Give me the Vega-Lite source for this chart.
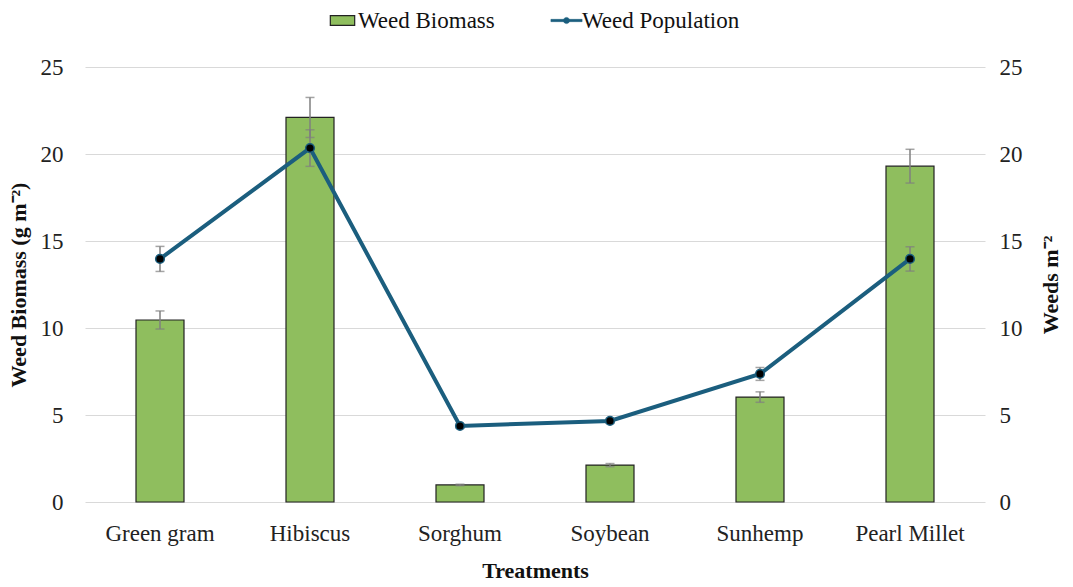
{
  "$schema": "https://vega.github.io/schema/vega-lite/v6.json",
  "width": 900,
  "height": 435,
  "autosize": "none",
  "padding": {"left": 85, "top": 67, "right": 88, "bottom": 85},
  "background": "white",
  "config": {
    "font": "Liberation Serif",
    "view": {"stroke": null},
    "axis": {
      "labelFont": "Liberation Serif",
      "titleFont": "Liberation Serif",
      "labelFontSize": 23,
      "titleFontSize": 22,
      "labelColor": "#222",
      "titleColor": "#111",
      "domain": false,
      "ticks": false,
      "gridColor": "#d9d9d9",
      "labelPadding": 12
    },
    "legend": {
      "labelFont": "Liberation Serif",
      "labelFontSize": 23,
      "labelColor": "#111",
      "layout": {"top": {"anchor": "middle", "direction": "horizontal", "margin": 60}}
    }
  },
  "data": {
    "values": [
      {"treatment": "Green gram", "biomass": 10.46, "bm_err": 0.52, "pop": 13.97, "pop_err": 0.72},
      {"treatment": "Hibiscus", "biomass": 22.1, "bm_err": 1.15, "pop": 20.34, "pop_err": 1.05},
      {"treatment": "Sorghum", "biomass": 0.98, "bm_err": 0.04, "pop": 4.37, "pop_err": 0.12},
      {"treatment": "Soybean", "biomass": 2.12, "bm_err": 0.09, "pop": 4.66, "pop_err": 0.14},
      {"treatment": "Sunhemp", "biomass": 6.03, "bm_err": 0.3, "pop": 7.36, "pop_err": 0.37},
      {"treatment": "Pearl Millet", "biomass": 19.3, "bm_err": 0.97, "pop": 13.97, "pop_err": 0.7}
    ]
  },
  "encoding": {
    "x": {
      "field": "treatment",
      "type": "nominal",
      "sort": null,
      "scale": {"paddingInner": 0.68, "paddingOuter": 0.34},
      "axis": {"labelAngle": 0, "labelFont": "Liberation Serif", "labelPadding": 20, "title": "Treatments", "titleFontWeight": "bold", "grid": false, "titlePadding": 15}
    }
  },
  "layer": [
    {
      "encoding": {
        "y": {
          "field": "biomass",
          "type": "quantitative",
          "scale": {"domain": [0, 25]},
          "axis": {"title": "Weed Biomass (g m⁻²)", "labelFont": "Liberation Serif", "titleFontWeight": "bold", "values": [0, 5, 10, 15, 20, 25], "labelPadding": 22, "titlePadding": 10}
        }
      },
      "layer": [
        {
          "mark": {"type": "bar", "stroke": "#222", "strokeWidth": 1.2},
          "encoding": {
            "fill": {
              "datum": "Weed Biomass",
              "type": "nominal",
              "scale": {"range": ["#8fbe5e"]},
              "legend": {"title": null, "orient": "top", "labelFont": "Liberation Serif", "labelFontSize": 23, "symbolType": "M-1.25,-0.5L1.25,-0.5L1.25,0.5L-1.25,0.5Z", "symbolSize": 380, "symbolStrokeColor": "#222", "symbolStrokeWidth": 1.2, "offset": 34}
            }
          }
        },
        {
          "mark": {"type": "errorbar", "ticks": {"size": 9, "color": "#7f7f7f"}, "color": "#7f7f7f", "thickness": 1.5},
          "encoding": {
            "yError": {"field": "bm_err"}
          }
        }
      ]
    },
    {
      "encoding": {
        "y": {
          "field": "pop",
          "type": "quantitative",
          "scale": {"domain": [0, 25]},
          "axis": {"orient": "right", "title": "Weeds m⁻²", "labelFont": "Liberation Serif", "titleAngle": 270, "titleFontWeight": "bold", "values": [0, 5, 10, 15, 20, 25], "grid": false, "labelPadding": 14, "titlePadding": 40}
        }
      },
      "layer": [
        {
          "mark": {"type": "line", "strokeWidth": 4},
          "encoding": {
            "stroke": {
              "datum": "Weed Population",
              "type": "nominal",
              "scale": {"range": ["#1b5e7e"]},
              "legend": {"title": null, "orient": "top", "labelFont": "Liberation Serif", "labelFontSize": 23, "symbolType": "M-1.6,-0.12L1.6,-0.12L1.6,0.12L-1.6,0.12Z M0,-0.32A0.32,0.32 0 1,1 0,0.32A0.32,0.32 0 1,1 0,-0.32Z", "symbolSize": 380, "symbolStrokeWidth": 0.5, "symbolFillColor": "#1b5e7e", "offset": 34}
            }
          }
        },
        {
          "mark": {"type": "errorbar", "ticks": {"size": 9, "color": "#7f7f7f"}, "color": "#7f7f7f", "thickness": 1.5},
          "encoding": {
            "yError": {"field": "pop_err"}
          }
        },
        {
          "mark": {"type": "point", "filled": true, "fill": "black", "stroke": "#1b5e7e", "strokeWidth": 1.5, "size": 75, "opacity": 1}
        }
      ]
    }
  ],
  "resolve": {"scale": {"y": "independent"}}
}
